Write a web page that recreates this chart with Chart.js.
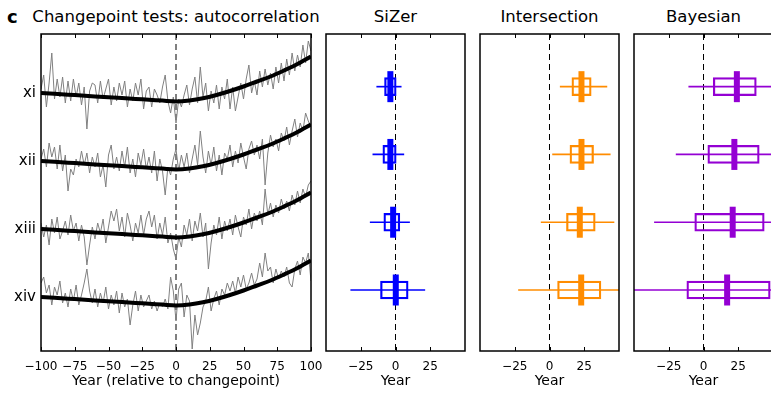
<!DOCTYPE html>
<html>
<head>
<meta charset="utf-8">
<script src="https://cdn.jsdelivr.net/npm/chart.js@4.4.1/dist/chart.umd.min.js"></script>
<style>
  html, body { margin: 0; padding: 0; background: #fff; overflow: hidden; }
  body { width: 771px; height: 393px; position: relative; font-family: "DejaVu Sans", sans-serif; }
  canvas { position: absolute; top: 0; }
  .title { position: absolute; top: 9px; font-size: 16.5px; line-height: 16.5px; white-space: nowrap; color: #000; }
  .centered { transform: translateX(-50%); }
</style>
</head>
<body>
<div class="title" style="left:7px; font-weight:bold; font-size:18px;">c</div>
<div class="title centered" style="left:176px;">Changepoint tests: autocorrelation</div>
<div class="title centered" style="left:395.5px;">SiZer</div>
<div class="title centered" style="left:549.5px;">Intersection</div>
<div class="title centered" style="left:703.5px;">Bayesian</div>

<canvas id="series" width="330" height="393" style="left:0px"></canvas>
<canvas id="sizer" width="143" height="393" style="left:324px"></canvas>
<canvas id="intersection" width="143" height="393" style="left:478px"></canvas>
<canvas id="bayesian" width="143" height="393" style="left:632px"></canvas>

<script>
// ---- data ----
const rowLabels = ['xi', 'xii', 'xiii', 'xiv'];

// yearly grey series, every 2 years from -100 to 100
const years = Array.from({length: 101}, (_, i) => -100 + 2 * i);
const seriesXi = [
    4, 18, -14, 10, 40, -6, 14, -4, 16, -10,
    12, -8, 14, -4, 10, -12, 6, -36, 2, 10,
    8, -10, 12, -6, 4, 14, -12, 6, -8, 10,
    -2, 12, -14, 4, -8, 10, -2, 14, -16, 2,
    6, -14, 4, -2, -10, 6, 18, -8, -20, -4,
    -30, -6, -14, -2, 8, -12, 4, 16, -10, 26,
    -4, 10, -18, 2, -10, 8, -16, 6, -6, 14,
    -16, 6, -18, -4, 10, -6, 14, 28, 0, 12,
    -2, 22, 6, 24, 8, 20, 4, 26, 10, 30,
    12, 34, 18, 40, 22, 38, 26, 48, 30, 52,
    42
];
const seriesXii = [
    2, 12, -6, 18, 4, 14, -8, 16, -10, 6,
    -30, -8, -14, 2, -6, 10, -4, 8, -12, 4,
    -6, 8, -16, -4, -26, 6, 16, -8, 4, -10,
    10, -6, 14, -12, 2, -16, 8, -4, 12, -8,
    4, -12, 10, -20, 2, -10, -34, -6, -14, 2,
    12, -10, 6, -6, 8, -12, 2, 16, -4, 30,
    4, -12, 10, -4, 14, -10, 6, -14, 8, 2,
    16, -6, 10, -2, 18, 4, -8, 12, 20, 6,
    16, 2, 22, -24, 8, 26, 14, 22, 10, 28,
    20, 34, 16, 30, 42, 24, 38, 30, 48, 40,
    34
];
const seriesXiii = [
    6, -8, 4, -16, 10, -4, 12, -10, -2, 8,
    -6, 14, -2, 6, -12, 4, -8, -36, -16, 2,
    -10, 6, -4, 10, -14, 2, 18, 8, 20, -2,
    12, -8, 16, 4, -12, 6, -4, 14, -6, 10,
    18, 2, 14, -10, 6, -6, 12, -14, -4, -20,
    -30, -8, -18, 4, -6, 10, -12, 8, -2, 16,
    -8, 6, -40, -14, 4, -6, 12, -10, 8, -2,
    10, -6, 14, 2, -8, 12, 4, 20, 0, 16,
    8, 18, 4, 40, 14, 26, 12, 24, 16, 30,
    20, 28, 18, 34, 24, 38, 26, 40, 32, 44,
    48
];
const seriesXiv = [
    14, 20, 4, 12, -8, 10, 2, 16, -6, 4,
    -10, 8, -4, 12, -8, 2, 14, 28, 6, -6,
    8, -10, 4, -6, 10, -12, 2, -8, 6, -16,
    4, -10, -2, -28, -8, 6, -14, 2, -10, -4,
    2, -12, -4, -14, -6, -10, -2, -12, 20, 6,
    -24, 8, 14, -20, 2, -4, -52, -18, -38, -26,
    -10, -4, 10, -14, -2, 6, -8, 8, 2, 14,
    6, 16, 4, 20, 10, 22, 8, 14, 24, 12,
    18, 34, 20, 44, 26, 30, 14, 28, 18, 26,
    20, 30, 14, 10, 28, 36, 22, 40, 34, 44,
    16
];

// fitted changepoint curve (same shape for every row)
const fitYears = [-100, -90, -80, -70, -60, -50, -40, -30, -20, -10, 0, 10, 20, 30, 40, 50, 60, 70, 80, 90, 100];
const fitCurve = [0, -0.8, -1.7, -2.5, -3.4, -4.2, -5.0, -5.9, -6.7, -7.6, -8.4, -7.5, -5.3, -2.0, 2.0, 6.5, 11.5, 16.5, 22.5, 29.0, 36.6];

// changepoint estimates (years), rows xi..xiv
const sizerMedian = [-3.7, -3.7, -1.7, 0.2];
const sizerBoxLow = [-7.9, -9.1, -8.4, -10.8];
const sizerBoxHigh = [0.5, 0.5, 3.1, 9.1];
const sizerWhiskerLow = [-13.5, -16.3, -18.2, -32.2];
const sizerWhiskerHigh = [4.1, 6.0, 10.1, 21.1];

const interMedian = [23.0, 23.0, 21.8, 22.8];
const interBoxLow = [16.1, 14.7, 12.2, 5.8];
const interBoxHigh = [30.0, 31.7, 32.9, 37.0];
const interWhiskerLow = [7.7, 2.2, -6.0, -22.3];
const interWhiskerHigh = [41.3, 43.7, 46.4, 56.0];

const bayesMedian = [24.0, 22.2, 21.0, 17.0];
const bayesBoxLow = [7.0, 3.1, -6.3, -12.0];
const bayesBoxHigh = [38.0, 40.1, 43.7, 48.0];
const bayesWhiskerLow = [-10.6, -19.7, -35.3, -56.0];
const bayesWhiskerHigh = [58.0, 58.0, 58.0, 58.0];

const boxTicks = [-25, 0, 25];

// ---- drawing ----
const ROW_STEP = 68;
const fontFamily = '"DejaVu Sans", sans-serif';
const tickFont = {family: fontFamily, size: 12};
const axisFont = {family: fontFamily, size: 14};
const rowFont = {family: fontFamily, size: 15};

const fmt = v => v < 0 ? '\u2212' + Math.abs(v) : String(v);

// box frame and inward tick marks
const framePlugin = {
    id: 'frame',
    afterDraw(chart) {
        const {ctx, chartArea: a} = chart;
        const x = chart.scales.x;
        ctx.save();
        ctx.strokeStyle = '#000';
        ctx.lineWidth = 1.5;
        ctx.strokeRect(a.left, a.top, a.right - a.left, a.bottom - a.top);
        ctx.lineWidth = 1;
        x.ticks.forEach(t => {
            const px = Math.round(x.getPixelForValue(t.value)) + 0.5;
            ctx.beginPath();
            ctx.moveTo(px, a.bottom);
            ctx.lineTo(px, a.bottom - 4);
            ctx.moveTo(px, a.top);
            ctx.lineTo(px, a.top + 4);
            ctx.stroke();
        });
        ctx.restore();
    }
};

const xAxisFit = s => { s.height = 42; s.paddingLeft = 0; s.paddingRight = 0; };

// panel c: time series
const noisy = [seriesXi, seriesXii, seriesXiii, seriesXiv];
const seriesSets = [];
noisy.forEach((vals, r) => {
    seriesSets.push({
        type: 'line',
        data: years.map((t, i) => ({x: t, y: vals[i] - r * ROW_STEP})),
        borderColor: '#808080',
        borderWidth: 1,
        pointRadius: 0,
        order: 2
    });
    seriesSets.push({
        type: 'line',
        data: fitYears.map((t, i) => ({x: t, y: fitCurve[i] - r * ROW_STEP})),
        borderColor: '#000',
        borderWidth: 4,
        pointRadius: 0,
        cubicInterpolationMode: 'monotone',
        order: 1
    });
});
const seriesTop = 59, seriesBottom = -258;
seriesSets.push({
    type: 'line',
    data: [{x: 0, y: seriesTop}, {x: 0, y: seriesBottom}],
    borderColor: '#000',
    borderWidth: 1,
    borderDash: [6, 4],
    pointRadius: 0,
    order: 3
});

new Chart(document.getElementById('series').getContext('2d'), {
    type: 'line',
    data: {datasets: seriesSets},
    options: {
        responsive: false,
        animation: false,
        events: [],
        layout: {autoPadding: false, padding: {left: 0, right: 19, top: 34, bottom: 0}},
        plugins: {legend: {display: false}, tooltip: {enabled: false}},
        scales: {
            x: {
                type: 'linear', min: -100, max: 100,
                ticks: {stepSize: 25, callback: fmt, font: tickFont, color: '#000', padding: 9, maxRotation: 0, autoSkip: false},
                grid: {display: false, drawTicks: false},
                border: {display: false},
                title: {display: true, text: 'Year (relative to changepoint)', font: axisFont, color: '#000', padding: {top: 0, bottom: 3}},
                afterFit: xAxisFit
            },
            y: {
                type: 'linear', min: seriesBottom, max: seriesTop,
                afterBuildTicks: s => { s.ticks = rowLabels.map((_, r) => ({value: -r * ROW_STEP})); },
                ticks: {callback: (v, i) => rowLabels[i], font: rowFont, color: '#000', padding: 5, autoSkip: false},
                grid: {display: false, drawTicks: false},
                border: {display: false},
                afterFit: s => { s.width = 41; s.paddingTop = 0; s.paddingBottom = 0; }
            }
        }
    },
    plugins: [framePlugin]
});

// panels: changepoint estimates
const rowMin = 0.223, rowMax = 4.9;

function estimatePanel(id, color, median, boxLow, boxHigh, whiskerLow, whiskerHigh) {
    const rows = rowLabels.map((_, r) => r + 1);
    new Chart(document.getElementById(id).getContext('2d'), {
        type: 'bar',
        data: {
            datasets: [{
                type: 'scatter',
                data: rows.map((y, i) => ({x: median[i], y: y})),
                pointStyle: 'line',
                pointRotation: 90,
                pointRadius: 15.5,
                pointBorderWidth: 6,
                pointBorderColor: color,
                pointBackgroundColor: color,
                order: 1
            }, {
                type: 'bar',
                data: rows.map((y, i) => ({x: [boxLow[i], boxHigh[i]], y: y})),
                backgroundColor: 'rgba(0,0,0,0)',
                borderColor: color,
                borderWidth: 1.6,
                borderSkipped: false,
                barThickness: 18,
                grouped: false,
                order: 2
            }, {
                type: 'bar',
                data: rows.map((y, i) => ({x: [whiskerLow[i], whiskerHigh[i]], y: y})),
                backgroundColor: color,
                borderWidth: 0,
                barThickness: 1,
                grouped: false,
                order: 3
            }, {
                type: 'line',
                data: [{x: 0, y: rowMin}, {x: 0, y: rowMax}],
                borderColor: '#000',
                borderWidth: 1,
                borderDash: [6, 4],
                pointRadius: 0,
                order: 4
            }]
        },
        options: {
            indexAxis: 'y',
            responsive: false,
            animation: false,
            events: [],
            layout: {autoPadding: false, padding: {left: 2, right: 2, top: 34, bottom: 0}},
            plugins: {legend: {display: false}, tooltip: {enabled: false}},
            scales: {
                x: {
                    type: 'linear', min: -50, max: 50,
                    afterBuildTicks: s => { s.ticks = boxTicks.map(v => ({value: v})); },
                    ticks: {callback: fmt, font: tickFont, color: '#000', padding: 9, maxRotation: 0, autoSkip: false},
                    grid: {display: false, drawTicks: false},
                    border: {display: false},
                    title: {display: true, text: 'Year', font: axisFont, color: '#000', padding: {top: 0, bottom: 3}},
                    afterFit: xAxisFit
                },
                y: {
                    type: 'linear', min: rowMin, max: rowMax, reverse: true, offset: false,
                    display: false
                }
            }
        },
        plugins: [framePlugin]
    });
}

estimatePanel('sizer', '#0000ff', sizerMedian, sizerBoxLow, sizerBoxHigh, sizerWhiskerLow, sizerWhiskerHigh);
estimatePanel('intersection', '#ff8c00', interMedian, interBoxLow, interBoxHigh, interWhiskerLow, interWhiskerHigh);
estimatePanel('bayesian', '#9400d3', bayesMedian, bayesBoxLow, bayesBoxHigh, bayesWhiskerLow, bayesWhiskerHigh);
</script>
</body>
</html>
